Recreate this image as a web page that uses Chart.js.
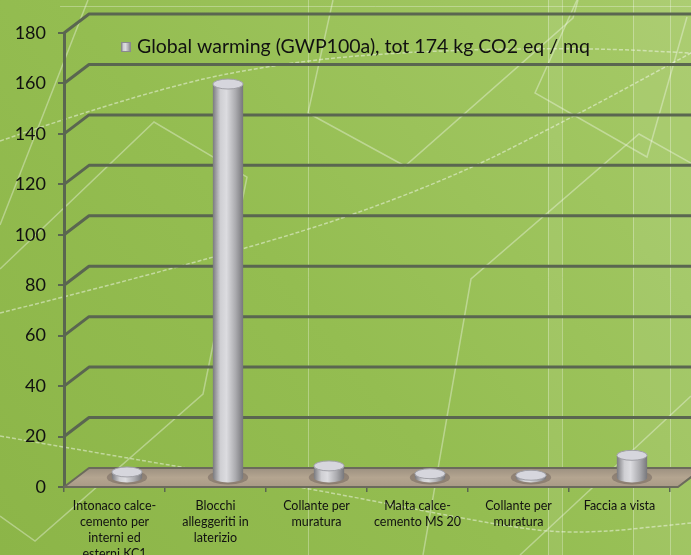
<!DOCTYPE html>
<html>
<head>
<meta charset="utf-8">
<script src="https://cdn.jsdelivr.net/npm/chart.js@4"></script>
<style>
  html, body { margin: 0; padding: 0; background: #93bb50; overflow: hidden; }
  canvas { display: block; }
</style>
</head>
<body>
<canvas id="gwp-chart" width="691" height="555"></canvas>
<script>
const seriesLabel = 'Global warming (GWP100a), tot 174 kg CO2 eq / mq';
const categories = [
    ['Intonaco calce-', 'cemento per', 'interni ed', 'esterni KC1'],
    ['Blocchi', 'alleggeriti in', 'laterizio'],
    ['Collante per', 'muratura'],
    ['Malta calce-', 'cemento MS 20'],
    ['Collante per', 'muratura'],
    ['Faccia a vista']
];
const gwpValues = [2.2, 156, 4.6, 1.5, 0.9, 8.8];
const yMin = 0;
const yMax = 180;
const yStep = 20;

// depth of the fake 3d box (back wall offset)
const DX = 25, DY = 19;

function backdrop(ctx, w, h) {
    let g = ctx.createLinearGradient(0, h, w, 0);
    g.addColorStop(0, '#8cb548');
    g.addColorStop(0.45, '#94bd51');
    g.addColorStop(1, '#a6ca68');
    ctx.fillStyle = g;
    ctx.fillRect(0, 0, w, h);

    ctx.fillStyle = 'rgba(255,255,255,0.07)';
    ctx.fillRect(548, 0, 14, h);
    ctx.fillRect(633, 0, 58, h);

    ctx.strokeStyle = 'rgba(255,255,255,0.3)';
    ctx.lineWidth = 1;
    [308, 548, 562, 633, 670].forEach(x => {
        ctx.beginPath(); ctx.moveTo(x + 0.5, 0); ctx.lineTo(x + 0.5, h); ctx.stroke();
    });
    ctx.beginPath(); ctx.moveTo(60, 6.5); ctx.lineTo(w, 6.5); ctx.stroke();

    const polys = [
        [[0, 269], [154, 122], [247, 177], [203, 394], [35, 541], [0, 516]],
        [[333, 0], [308, 113], [405, 166], [573, 18], [578, 0]],
        [[423, 555], [471, 279], [639, 134], [691, 163]],
        [[577, 0], [535, 93], [647, 157], [687, 17]],
        [[691, 396], [520, 555]],
        [[0, 225], [88, 0]]
    ];
    ctx.strokeStyle = 'rgba(255,255,255,0.35)';
    ctx.lineWidth = 1.5;
    polys.forEach(p => {
        ctx.beginPath();
        p.forEach((pt, i) => i ? ctx.lineTo(pt[0], pt[1]) : ctx.moveTo(pt[0], pt[1]));
        ctx.stroke();
    });

    const curves = [
        [[0, 313], [247, 251], [440, 184], [573, 117], [691, 53]],
        [[0, 141], [154, 88], [300, 60], [440, 50], [590, 48], [691, 53]],
        [[0, 436], [132, 459], [308, 488], [485, 523], [573, 535], [691, 523]]
    ];
    ctx.setLineDash([4, 2]);
    ctx.strokeStyle = 'rgba(255,255,255,0.45)';
    curves.forEach(p => {
        ctx.beginPath();
        ctx.moveTo(p[0][0], p[0][1]);
        for (let i = 1; i < p.length - 1; i++) {
            let mx = (p[i][0] + p[i + 1][0]) / 2, my = (p[i][1] + p[i + 1][1]) / 2;
            ctx.quadraticCurveTo(p[i][0], p[i][1], mx, my);
        }
        ctx.lineTo(p[p.length - 1][0], p[p.length - 1][1]);
        ctx.stroke();
    });
    ctx.setLineDash([]);
}

function silver(ctx, x0, x1) {
    let g = ctx.createLinearGradient(x0, 0, x1, 0);
    g.addColorStop(0, '#7a7a7e');
    g.addColorStop(0.25, '#cfcfd3');
    g.addColorStop(0.45, '#dcdce0');
    g.addColorStop(0.75, '#ababaf');
    g.addColorStop(1, '#77777b');
    return g;
}

const box3d = {
    id: 'box3d',
    beforeDraw(chart) {
        backdrop(chart.ctx, chart.width, chart.height);
    },
    beforeDatasetsDraw(chart) {
        const ctx = chart.ctx;
        const y = chart.scales.y;
        const left = chart.chartArea.left;
        const right = chart.chartArea.right;

        // back wall gridlines
        ctx.save();
        ctx.strokeStyle = '#5a6650';
        ctx.lineWidth = 3;
        ctx.lineJoin = 'round';
        for (let v = yStep; v <= yMax; v += yStep) {
            const py = y.getPixelForValue(v);
            ctx.beginPath();
            ctx.moveTo(left, py);
            ctx.lineTo(left + DX, py - DY);
            ctx.lineTo(chart.width, py - DY);
            ctx.stroke();
        }

        // floor
        const py0 = y.getPixelForValue(0);
        ctx.beginPath();
        ctx.moveTo(left, py0);
        ctx.lineTo(right + 8, py0);
        ctx.lineTo(right + 8 + DX, py0 - DY);
        ctx.lineTo(left + DX, py0 - DY);
        ctx.closePath();
        let fg = ctx.createLinearGradient(0, py0 - DY, 0, py0);
        fg.addColorStop(0, '#9c9080');
        fg.addColorStop(0.5, '#b4a590');
        fg.addColorStop(1, '#a99a86');
        ctx.fillStyle = fg;
        ctx.fill();
        ctx.strokeStyle = '#6b6a5c';
        ctx.lineWidth = 2;
        ctx.stroke();
        ctx.restore();
    },
    afterDatasetsDraw(chart) {
        const ctx = chart.ctx;
        const y = chart.scales.y;
        const meta = chart.getDatasetMeta(0);
        ctx.save();
        meta.data.forEach((el, i) => {
            const cx = el.x + DX / 2;
            const base = y.getPixelForValue(0) - DY / 2;
            const top = y.getPixelForValue(gwpValues[i]) - DY / 2;
            const rx = el.width / 2;
            const ry = 5;

            // shadow on floor
            ctx.fillStyle = 'rgba(80,70,70,0.35)';
            ctx.beginPath();
            ctx.ellipse(cx, base, rx + 5, ry + 2, 0, 0, Math.PI * 2);
            ctx.fill();

            // body
            ctx.fillStyle = silver(ctx, cx - rx, cx + rx);
            ctx.beginPath();
            ctx.moveTo(cx - rx, top);
            ctx.lineTo(cx - rx, base);
            ctx.ellipse(cx, base, rx, ry, 0, Math.PI, 0, true);
            ctx.lineTo(cx + rx, top);
            ctx.closePath();
            ctx.fill();

            // cap
            ctx.fillStyle = '#d6d6dd';
            ctx.beginPath();
            ctx.ellipse(cx, top, rx, ry, 0, 0, Math.PI * 2);
            ctx.fill();
            ctx.strokeStyle = '#a0a0a6';
            ctx.lineWidth = 1;
            ctx.stroke();
        });

        // legend
        const ds = chart.data.datasets[0];
        ctx.fillStyle = silver(ctx, 121, 131);
        ctx.fillRect(121, 42, 10, 10);
        ctx.strokeStyle = '#8a8a8e';
        ctx.strokeRect(121.5, 42.5, 9, 9);
        ctx.fillStyle = '#111';
        ctx.font = '19.5px Lato';
        ctx.textBaseline = 'middle';
        ctx.fillText(ds.label, 137, 47);
        ctx.restore();
    }
};

new Chart(document.getElementById('gwp-chart').getContext('2d'), {
    type: 'bar',
    data: {
        labels: categories,
        datasets: [{
            label: seriesLabel,
            data: gwpValues,
            backgroundColor: 'rgba(0,0,0,0)',
            borderWidth: 0,
            barPercentage: 0.3,
            categoryPercentage: 1
        }]
    },
    options: {
        responsive: false,
        animation: false,
        layout: { padding: { top: 33, right: 21, left: 0, bottom: 0 } },
        plugins: { legend: { display: false }, tooltip: { enabled: false } },
        scales: {
            x: {
                afterFit: s => { s.height = 68; },
                grid: { drawOnChartArea: false, tickLength: 5, color: '#5a6650', lineWidth: 1.5 },
                border: { display: false },
                ticks: {
                    color: '#111',
                    font: { family: 'Lato', size: 12.5, lineHeight: '16px' },
                    padding: 6,
                    maxRotation: 0,
                    autoSkip: false
                }
            },
            y: {
                min: yMin,
                max: yMax,
                afterFit: s => { s.width = 64; },
                grid: { drawOnChartArea: false, tickLength: 6, color: '#5a6650', lineWidth: 2 },
                border: { display: true, color: '#5a6650', width: 3 },
                ticks: {
                    stepSize: yStep,
                    color: '#111',
                    font: { family: 'Lato', size: 18 },
                    padding: 12
                }
            }
        }
    },
    plugins: [box3d]
});
</script>
</body>
</html>
